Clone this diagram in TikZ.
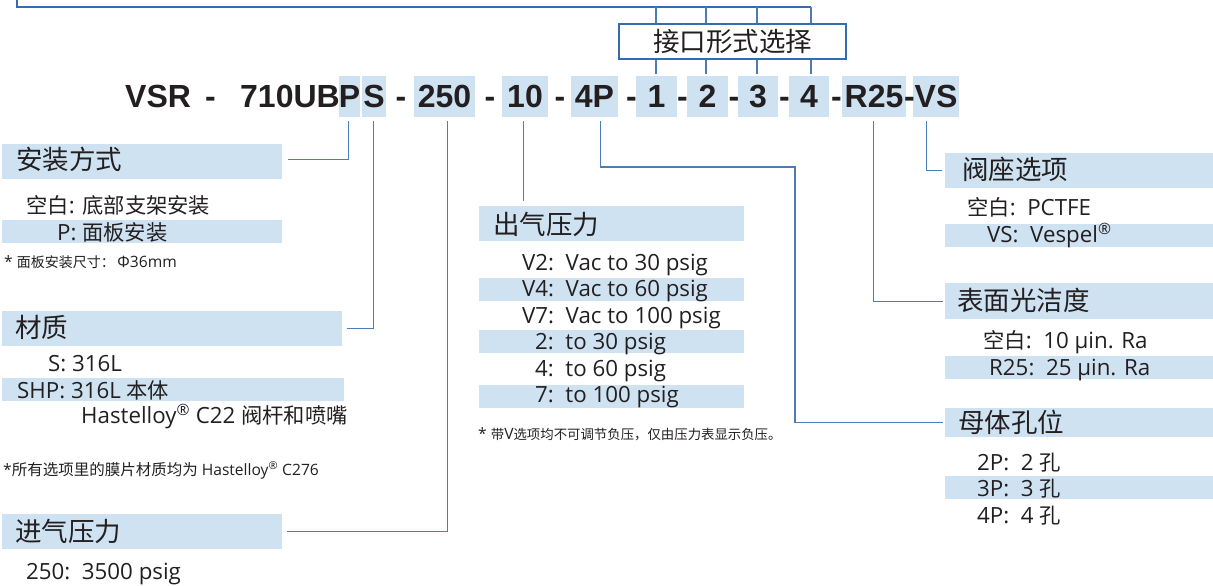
\documentclass[tikz,border=0pt]{standalone}
\usepackage{fontspec}
\setmainfont{Open Sans}
\newfontfamily\zhf{Noto Sans CJK SC}
\newfontfamily\pnf{Liberation Sans}
\newcommand\zh[1]{{\zhf\fontsize{21.3}{24}\selectfont #1}}
\newcommand\zs[2]{{\zhf\fontsize{#1}{#1}\selectfont #2}}
\definecolor{hlc}{RGB}{207,226,242}
\definecolor{lnc}{RGB}{74,126,187}
\definecolor{boxc}{RGB}{52,108,176}
\definecolor{txt}{RGB}{35,31,32}
\begin{document}
\begin{tikzpicture}[x=1pt,y=-1pt,
  hl/.style={fill=hlc,draw=none,inner sep=0,anchor=north west},
  pn/.style={font=\pnf\bfseries\fontsize{32}{32}\selectfont,text=txt,inner sep=0,anchor=base},
  body/.style={font=\fontsize{22.3}{26}\selectfont,text=txt,inner sep=0,anchor=base west},
  head/.style={font=\zhf\fontsize{26.5}{30}\selectfont,text=txt,inner sep=0,anchor=base west},
  note/.style={font=\fontsize{15.6}{18}\selectfont,text=txt,inner sep=0,anchor=base west},
  conn/.style={draw=lnc,line width=1.3pt},
  frame/.style={draw=boxc,line width=2pt}]
\useasboundingbox (0,0) rectangle (1213,586);

% ---- part number highlights
\node[hl,minimum width=21,minimum height=41] (hlP) at (339,76) {};
\node[hl,minimum width=24,minimum height=41] (hlS) at (362,76) {};
\node[hl,minimum width=61,minimum height=41] (hl250) at (414,76) {};
\node[hl,minimum width=46,minimum height=41] (hl10) at (502,76) {};
\node[hl,minimum width=47,minimum height=41] (hl4P) at (571,76) {};
\node[hl,minimum width=41,minimum height=41] (hl1) at (636,76) {};
\node[hl,minimum width=41,minimum height=41] (hl2) at (687,76) {};
\node[hl,minimum width=40,minimum height=41] (hl3) at (738,76) {};
\node[hl,minimum width=40,minimum height=41] (hl4) at (789,76) {};
\node[hl,minimum width=64,minimum height=41] (hlR) at (842,76) {};
\node[hl,minimum width=46,minimum height=41] (hlVS) at (913,76) {};

% ---- part number text
\node[pn,anchor=base west] (tVSR) at (125,107) {VSR};
\node[pn] (d0) at (210.5,107) {-};
\node[pn,anchor=base east] (t710) at (340,107) {710UB};
\node[pn] (tP) at (349.5,107) {P};
\node[pn] (tS) at (374,107) {S};
\node[pn] (d1) at (401,107) {-};
\node[pn] (t250) at (444.5,107) {250};
\node[pn] (d2) at (490,107) {-};
\node[pn] (t10) at (525,107) {10};
\node[pn] (d3) at (560,107) {-};
\node[pn] (t4P) at (594.5,107) {4P};
\node[pn] (d4) at (631.5,107) {-};
\node[pn] (t1) at (656.5,107) {1};
\node[pn] (d5) at (682.5,107) {-};
\node[pn] (t2) at (707.5,107) {2};
\node[pn] (d6) at (734,107) {-};
\node[pn] (t3) at (758,107) {3};
\node[pn] (d7) at (784.5,107) {-};
\node[pn] (t4) at (809,107) {4};
\node[pn] (d8) at (836.5,107) {-};
\node[pn] (tR) at (874,107) {R25};
\node[pn] (d9) at (909.5,107) {-};
\node[pn] (tVS) at (936,107) {VS};

% ---- port selection box and frame
\node[draw=boxc,line width=2.2pt,minimum width=227,minimum height=35,inner sep=0,
      font=\zhf\fontsize{26.5}{30}\selectfont,text=txt] (port) at (732.5,41.5) {接口形式选择};
\coordinate (f0) at (17,-3);
\coordinate (q1) at (656,7);
\coordinate (q2) at (706,7);
\coordinate (q3) at (757,7);
\coordinate (q4) at (811,7);
\draw[frame] (f0) |- (q4);
\foreach \i in {1,2,3,4}{
  \draw[conn] (q\i) -- (q\i |- port.north);
  \draw[conn] (q\i |- port.south) -- ([yshift=2pt]q\i |- hl\i.north);
}

% ---- left: mounting
\node[hl,minimum width=280,minimum height=35] (mountH) at (2,144) {};
\node[hl,minimum width=280,minimum height=23] (mountP) at (2,220) {};
\node[head] (mountT) at (16,169) {安装方式};
\node[body] (mount1) at (26,213) {\zh{空白}: \zh{底部支架安装}};
\node[body] (mount2) at (57,240) {P: \zh{面板安装}};
\node[note] (mountN) at (4,267) {* \zs{14}{面板安装尺寸：}\,Φ36mm};

% ---- left: material
\node[hl,minimum width=340,minimum height=35] (matH) at (2,311) {};
\node[hl,minimum width=342,minimum height=23] (matSHP) at (2,378) {};
\node[head] (matT) at (15,337) {材质};
\node[body] (mat1) at (48,371) {S: 316L};
\node[body] (mat2) at (17,398) {SHP: 316L \zh{本体}};
\node[body] (mat3) at (81,423) {Hastelloy\textsuperscript{®} C22 \zh{阀杆和喷嘴}};
\node[note] (matN) at (3,475) {*\zs{15.5}{所有选项里的膜片材质均为} Hastelloy\textsuperscript{®} C276};

% ---- left: inlet pressure
\node[hl,minimum width=280,minimum height=35] (inH) at (2,514) {};
\node[head] (inT) at (15,541) {进气压力};
\node[body] (in1) at (26,579) {250:\ \ 3500 psig};

% ---- middle: outlet pressure
\node[hl,minimum width=265,minimum height=35] (outH) at (479,206) {};
\node[hl,minimum width=265,minimum height=23] (outV4) at (479,278) {};
\node[hl,minimum width=265,minimum height=23] (out2) at (479,330) {};
\node[hl,minimum width=265,minimum height=23] (out7) at (479,385) {};
\node[head] (outT) at (493,234) {出气压力};
\node[body] (o1) at (522,270) {V2:\ \ Vac to 30 psig};
\node[body] (o2) at (522,296.5) {V4:\ \ Vac to 60 psig};
\node[body] (o3) at (522,323) {V7:\ \ Vac to 100 psig};
\node[body] (o4) at (535,349.5) {2:\ \ to 30 psig};
\node[body] (o5) at (535,376) {4:\ \ to 60 psig};
\node[body] (o6) at (535,402.5) {7:\ \ to 100 psig};
\node[note] (outN) at (478,439) {* \zs{13.4}{带}V\zs{13.4}{选项均不可调节负压，仅由压力表显示负压。}};

% ---- right: seat
\node[hl,minimum width=268,minimum height=35] (seatH) at (945,153) {};
\node[hl,minimum width=268,minimum height=23] (seatVS) at (945,224) {};
\node[head] (seatT) at (962,179) {阀座选项};
\node[body] (s1) at (967,215) {\zh{空白}:\ \ PCTFE};
\node[body] (s2) at (987,242) {VS:\ \ Vespel\textsuperscript{®}};

% ---- right: surface finish
\node[hl,minimum width=268,minimum height=36] (surfH) at (945,283) {};
\node[hl,minimum width=268,minimum height=23] (surfR) at (945,356) {};
\node[head] (surfT) at (957,310) {表面光洁度};
\node[body] (r1) at (983,348) {\zh{空白}:\ \ 10 µin. Ra};
\node[body] (r2) at (989,375) {R25:\ \ 25 µin. Ra};

% ---- right: body holes
\node[hl,minimum width=268,minimum height=29] (holeH) at (945,408) {};
\node[hl,minimum width=268,minimum height=23] (hole3) at (945,476) {};
\node[head] (holeT) at (958,432) {母体孔位};
\node[body] (h1) at (977,470) {2P:\ \ 2 \zh{孔}};
\node[body] (h2) at (977,496) {3P:\ \ 3 \zh{孔}};
\node[body] (h3) at (977,523) {4P:\ \ 4 \zh{孔}};

% ---- connectors
\draw[conn] ([xshift=-1.5pt,yshift=-4pt]hlP.south) |- ([xshift=6pt,yshift=2.5pt]mountH.east);
\draw[conn] ([xshift=-1pt,yshift=-4pt]hlS.south) |- ([xshift=5pt]matH.east);
\draw[conn] ([xshift=2.5pt,yshift=-4pt]hl250.south) |- ([xshift=5pt]inH.east);
\draw[conn] ([xshift=-2pt,yshift=-4pt]hl10.south) coordinate (s10) -- ([yshift=5pt]s10 |- outH.north);
\coordinate (b4P) at (795,167);
\draw[conn] ([xshift=5.5pt,yshift=-4pt]hl4P.south) |- (b4P) |- ([xshift=-2pt]holeH.west);
\draw[conn] ([xshift=-1pt,yshift=-4pt]hlR.south) |- ([xshift=-2pt]surfH.west);
\draw[conn] ([xshift=-10pt,yshift=-4pt]hlVS.south) |- ([xshift=-3pt]seatH.west);
\end{tikzpicture}
\end{document}
